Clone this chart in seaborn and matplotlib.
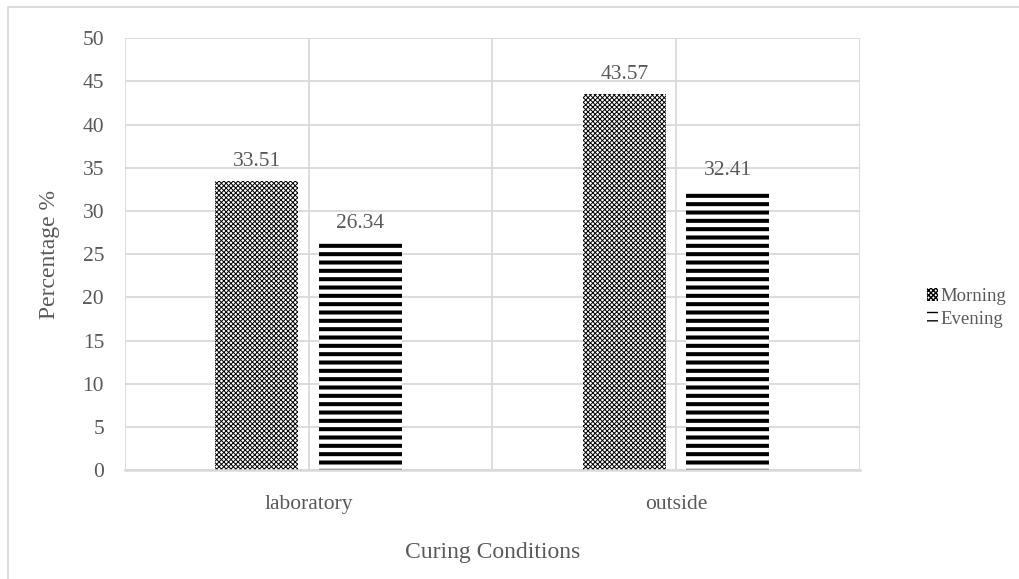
import matplotlib
matplotlib.use("Agg")
import matplotlib.pyplot as plt
import seaborn as sns
import pandas as pd
from matplotlib.patches import Rectangle

# Data
conditions = ["laboratory", "outside"]
series_names = ["Morning", "Evening"]
morning = [33.51, 43.57]
evening = [26.34, 32.41]
y_ticks = [0, 5, 10, 15, 20, 25, 30, 35, 40, 45, 50]

df = pd.DataFrame({
    "Curing Conditions": conditions * 2,
    "Series": [series_names[0]] * len(conditions) + [series_names[1]] * len(conditions),
    "Percentage %": morning + evening,
})

sns.set_theme(style="white")
plt.rcParams["font.family"] = ["Liberation Serif", "DejaVu Serif"]
TEXT = "#595959"
GRID = "#d9d9d9"

fig = plt.figure(figsize=(10.2, 5.79), dpi=100)
ax = fig.add_axes([0.1225, 0.188, 0.843 - 0.1225, 0.934 - 0.188])

sns.barplot(data=df, x="Curing Conditions", y="Percentage %", hue="Series",
            hue_order=series_names, order=conditions, ax=ax,
            width=0.564, gap=0.2, palette=["white", "white"],
            edgecolor="black", linewidth=0, legend=False, errorbar=None)

hatches = {"Morning": "xxxxxxx", "Evening": "--"}
hatch_lw = {"Morning": 0.7, "Evening": 2.9}
for cont, name in zip(ax.containers, series_names):
    for bar in cont:
        bar.set_hatch(hatches[name])
        bar.set_edgecolor("black")
        bar.set_linewidth(0)
        if hasattr(bar, "set_hatch_linewidth"):
            bar.set_hatch_linewidth(hatch_lw[name])
    ax.bar_label(cont, fmt="%.2f", padding=7, fontsize=15.5, color=TEXT)

ax.set_ylim(0, 50)
ax.set_xlim(-0.5, 1.5)
ax.set_yticks(y_ticks)
ax.set_xticks([0, 1])
ax.set_xticks([-0.5, 0.5, 1.5], minor=True)
ax.set_xticklabels(conditions)
ax.grid(True, which="major", axis="y", color=GRID, linewidth=1.3)
ax.grid(True, which="both", axis="x", color=GRID, linewidth=1.3)
ax.set_axisbelow(True)
ax.tick_params(axis="both", which="both", length=0, labelsize=15.5, colors=TEXT)
ax.tick_params(axis="y", pad=15)
ax.tick_params(axis="x", pad=18)
for lbl in ax.get_yticklabels() + ax.get_xticklabels():
    lbl.set_color(TEXT)

for side in ["top", "right", "left"]:
    ax.spines[side].set_visible(False)
ax.spines["bottom"].set_color(GRID)
ax.spines["bottom"].set_linewidth(1.8)

ax.set_ylabel("Percentage %", fontsize=17, color=TEXT, labelpad=16)
ax.set_xlabel("Curing Conditions", fontsize=17, color=TEXT, labelpad=20)

# Legend
handles = []
for name in series_names:
    h = Rectangle((0, 0), 1, 1, facecolor="white", edgecolor="black",
                  linewidth=0, hatch=hatches[name])
    if hasattr(h, "set_hatch_linewidth"):
        h.set_hatch_linewidth(hatch_lw[name] if name == "Morning" else 2.2)
    handles.append(h)
fig.legend(handles, series_names, loc="center left",
           bbox_to_anchor=(0.909, 0.468), frameon=False, fontsize=13.5,
           labelcolor=TEXT, handlelength=0.6, handleheight=0.65,
           handletextpad=0.1, labelspacing=0.3, borderpad=0,
           borderaxespad=0)

# Chart border
fig.patches.append(Rectangle((8 / 1020, -0.1), 1.2, 1 - 7 / 579 + 0.1,
                             transform=fig.transFigure, fill=False,
                             edgecolor=GRID, linewidth=1.3))

fig.savefig("out.png", dpi=100, facecolor="white")
